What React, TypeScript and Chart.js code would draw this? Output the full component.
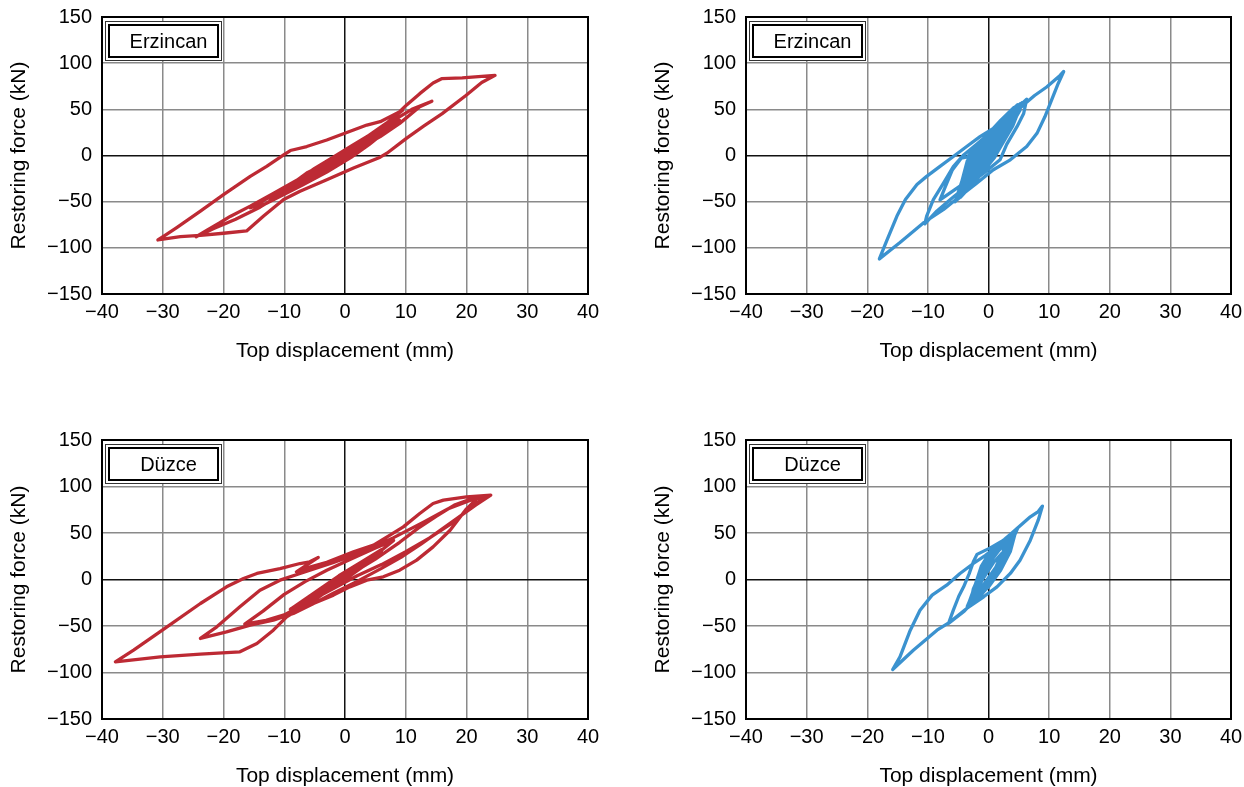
import React, { useEffect, useRef } from "react";
import { Chart, registerables } from "chart.js";

Chart.register(...registerables);

// ---------- axis / text data ----------
const xTickValues = [-40, -30, -20, -10, 0, 10, 20, 30, 40];
const yTickValues = [-150, -100, -50, 0, 50, 100, 150];
const xAxisTitle = "Top displacement (mm)";
const yAxisTitle = "Restoring force (kN)";
const panelLabels = ["Erzincan", "Erzincan", "Düzce", "Düzce"];

// ---------- series data (displacement mm, force kN) ----------
// Top-left: Erzincan (red)
const erzRedX = [
  0, 2.5, -1.5, 3.5, -3, 1, -2.5, 4, -4.5, 2, -1, 5, -5, 0, 6, 3, -2, -6,
  -3, 0, 4, 8, 11, 14.3, 12.3, 9, 5.8, 1.9, -3, -6.3, -9.6, -15.6,
  -13, -10, -7, -3, 1, 4, 7, 9, 6, 3, 0, -4, -8, -11, -14, -18, -21.6, -24.5,
  -22.5, -20.6, -18.9, -15.6, -11.8, -8, -4, 0, 3, 5.5, 7.5, 10.1, 12.3, 14.5, 15.9, 19.3, 22.5, 24.7,
  22.5, 19.9, 16, 13, 10.1, 6.9, 5.8, 1.4, -3, -7.4, -10.1, -13.4, -16.2, -20, -23.8, -27.1, -30.8,
  -29.5, -27.7, -23.8, -20, -15.6, -12.9, -10.1, -9, -6.3, -3, 1.4, 3.6, 5.8, 7.9, 9.5,
  7, 4, 1, -2, -5, -8, -11, -12.5, -9, -5, -1, 2, 4, 1, -3, -6,
  -9, -11.5, -8, -4, 0, 4, 7.5, 5, 1, -3, -7, -10, -6, -2, 2, 6, 3, -1, -5,
  -3, 0, 3, 1, -2, -4, -1, 2, 0,
];
const erzRedY = [
  0, 12, -6, 16, -12, 8, -10, 20, -18, 14, -2, 24, -20, 4, 28, 14, -10, -24,
  -10, 6, 20, 38, 50, 58.8, 52.7, 34.8, 20.4, 6.1, -8.2, -19, -35.1, -56.6,
  -52, -42, -32, -18, -2, 12, 28, 38, 26, 14, 2, -16, -32, -44, -56, -69, -79, -88,
  -80, -72.8, -66, -54.8, -41, -27, -12, 4, 16, 27, 38, 54.5, 67, 78.5, 83.2, 84, 85.7, 86.8,
  79, 65, 45.4, 32, 18.6, 2.5, -1.8, -13.6, -26.2, -38.7, -47.7, -65.6, -81.7, -84.2, -86.4, -87.8, -91.5,
  -86, -78.1, -60.2, -42.3, -22.6, -11.8, 0.7, 5.4, 9.7, 16.8, 27.6, 33, 36.6, 43.7, 49,
  36, 22, 10, -2, -14, -28, -40, -46, -34, -16, 2, 14, 22, 8, -10, -24,
  -36, -44, -28, -12, 6, 22, 36, 20, 2, -14, -30, -40, -20, -4, 12, 28, 12, -4, -20,
  -12, 4, 18, 10, -4, -14, 0, 12, 4,
];

// Top-right: Erzincan (blue)
const erzBlueX = [
  0, 1.5, -1, 2.5, -2, 3.5, -3,
  -2, 0, 2.5, 5, 3.5, 1, -1.5, -4.5,
  -3, -0.5, 2.5, 4.5, 3, 0.5, -2, -5,
  -3.2, 0.6, 4.6, 3.2, 0.9, -1.8, -4.6,
  -3.8, -1.5, 1.5, 4.8, 3.6, 1.5, -1, -4,
  -2.8, 0, 2.5, 5.2, 4, 2, -0.5, -3.5, -5.2,
  -3.5, -0.8, 2, 4.2, 2.8, 0.2, -2.5, -4.8,
  -3.5, -1, 2, 5.5, 4, 1.5, -1, -4,
  -2.5, 0.5, 3, 4, 2.5, 0, -3, -5.5,
  -4, -2.5, 0.5, 3.5, 6.3,
  5.8, 4.7, 3, 1.9, 0, -3, -6, -8.5, -10.5,
  -10.2, -9.1, -7.4, -5.8, -4.2, -2, 0.5, 3,
  1.5, -1, -4, -8,
  -7.2, -6, -4.5, -3.5, -3, -1, 1.5, 4, 6, 7.6, 9.6, 11.8, 12.4,
  11.5, 10.4, 9.3, 8, 6.3, 3.6, 0.8, -1.9, -4.7, -7.4, -10.7, -14.6, -18,
  -16.8, -15.1, -13.7, -11.8, -10.2, -8, -5.8, -3.6, -1.4, 0.8, 3, 5.2,
  3, 0.5, -2, -4.5, -3, -1, 1.5, 4, 2.5, 0, -2.5, -4, -2, 0, 2.5, 3.5,
  2, -0.5, -3, -4.2, -2.2, 0.8, 3, 1.5, -1, -2.5, -0.5, 1.5, 0,
];
const erzBlueY = [
  0, 12, -10, 26, -20, 38, -30,
  -6, 16, 36, 54, 28, -2, -22, -44,
  -8, 16, 37, 50, 22, -6, -26, -47,
  0, 28, 52, 26, -3, -25, -45,
  -18, 10, 34, 55, 30, 6, -16, -40,
  -6, 18, 38, 56, 34, 10, -14, -36, -48,
  -6, 18, 38, 52, 20, -8, -30, -46,
  -10, 12, 32, 57, 32, 4, -18, -40,
  -4, 22, 42, 48, 18, -10, -32, -50,
  -20, 2, 26, 44, 61,
  45.5, 31.2, 12, -4.7, -15, -30, -46, -60, -74,
  -65.6, -47.7, -29.7, -12, 0, 12, 26, 40,
  12, -12, -30, -48,
  -35, -16, -3, -1.4, 2, 16, 30, 44, 56, 65, 74.2, 86.7, 91,
  78, 59.9, 41.9, 24, 9.7, -4.7, -15.4, -29.7, -44.1, -58.4, -72.8, -94.3, -112,
  -92.5, -65.6, -47.7, -31.5, -22.6, -11.8, -1.1, 9.7, 20.4, 29.4, 40.1, 49.1,
  24, -4, -24, -42, -16, 6, 26, 46, 20, -6, -26, -38, -10, 10, 30, 40,
  14, -10, -30, -40, -12, 16, 34, 12, -12, -22, 2, 16, 0,
];

// Bottom-left: Düzce (red)
const duzRedX = [
  0, 3, -2, 4, -3.5, 5, -5, 6, -7,
  -3, 1, 5, 9, 12, 15, 18, 20.5, 22,
  20, 17.3, 14.5, 11.8, 9, 6.3, 3.6, 0.8, -1.9, -5.2, -7.4, -9.6, -11.8, -14.5, -17.3, -23.8, -30.4, -37.8,
  -34.8, -29.3, -23.8, -19.5, -16.7, -14.5, -10.7, -7.4, -5.8, -4.4,
  -8, -5.5, -3, 1.4, 4.7, 7.4, 9.6, 12.3, 14.5, 16.2, 20, 24,
  21.5, 18.5, 15.5, 12.5, 9.5, 6, 2, -2, -5.5, -8.5, -11.8, -15.6, -19.5, -23.8,
  -21.1, -17.3, -14, -10.7, -7.4, -2, 3, 8, 13, 17, 21, 23,
  20.5, 17.5, 14, 10, 6, 2, -2, -6, -10, -13, -16.5,
  -13.5, -10, -6.5, -3, 1, 5, 8,
  5, 1, -3, -7, -9, -5, -1, 3, 6, 3, -1, -4, -6, -3, 0, 3, 1, -2, 0,
];
const duzRedY = [
  0, 14, -8, 20, -14, 24, -22, 30, -30,
  -12, 6, 22, 40, 55, 68, 80, 86, 88.5,
  76, 53, 35.1, 20.8, 10, 2.9, -0.7, -7.9, -16.8, -25.8, -31.2, -40.1, -54.5, -68.8, -77.8, -80.3, -83.2, -88.5,
  -76, -50.9, -25.8, -7.9, 1.1, 6.5, 11.8, 17.2, 19, 23.7,
  8.2, 14, 18.5, 29.7, 36.9, 47.7, 56.6, 71, 81.7, 85.3, 88.9, 90.7,
  80, 66, 52, 38, 25, 12, -2, -15, -27, -36.6, -43.7, -49.1, -56.3, -63.4,
  -50.9, -29.4, -11.5, -0.7, 6.5, 18, 30, 45, 62, 76, 86, 88,
  76, 60, 45, 30, 16, 4, -10, -24, -38, -44, -48,
  -34, -16, -2, 10, 22, 34, 42,
  26, 8, -8, -24, -32, -14, 4, 20, 32, 16, -2, -14, -22, -8, 6, 16, 6, -6, 2,
];

// Bottom-right: Düzce (blue)
const duzBlueX = [
  0, 1, -0.8, 2, -1.5, 3, -2.5,
  -1.5, 0.3, 2.5, 4.5, 3.5, 1.8, 0, -1.5, -3.5,
  -2.4, -1.2, 0.5, 2.6, 4.6, 3.5, 1.8, 0.2, -1.5, -3.3,
  -2, -0.6, 1, 3, 4.8, 3, 1.2, -0.6, -2.8,
  -1.8, 0, 1.8, 4.2, 2.5, 0.8, -1, -3.5,
  -2.6, -1, 0.8, 3.5, 4.6, 3.8, 2.2, 0.5, -1.2, -3,
  -2.5, -1, 1, 3, 4.7, 3.6, 2, 0.3, -1.4, -3.2,
  -2.2, -0.8, 1.2, 4, 3, 1.5, -0.3, -2, -3.5,
  -2, -0.5, 2, 4.5,
  3.6, 2, 0, -2, -4, -6.6,
  -5.8, -4.9, -4.1, -3.2, -2.5, -1.9,
  0.3, 2.5, 4.7, 6.9, 8.2, 8.9,
  8.2, 6.9, 5.2, 3.6, 1.4, -0.8, -3.6, -6.3, -8.5, -12.4, -15.8,
  -14.6, -12.9, -11.3, -9.3, -6.9, -4.7, -2.5, -0.5, 1.5, 3,
  2, 0.5, -1.5, -3, -1.8, -0.3, 1.8, 3.6, 2.4, 0.8, -1, -2.6, -1, 0.8, 2.2, 1, -0.6, -1.8, 0,
];
const duzBlueY = [
  0, 8, -6, 18, -12, 30, -22,
  -4, 20, 40, 53, 34, 12, -6, -18, -30,
  -10, 14, 32, 43, 54, 34, 12, -5, -19, -29,
  -14, 8, 26, 42, 55, 28, 6, -12, -26,
  -4, 18, 34, 50, 22, 2, -14, -30,
  -14, 10, 28, 46, 53, 38, 18, -2, -16, -27,
  -10, 12, 30, 44, 55, 35, 14, -4, -18, -28,
  -8, 14, 32, 50, 30, 10, -8, -20, -29,
  -6, 16, 38, 52,
  30, 10, -8, -20, -34, -47.3,
  -33, -18, -7.9, 6, 19, 27,
  34, 42.3, 54.8, 67.4, 73, 78.9,
  63.8, 42.3, 20.8, 6.5, -7.9, -18.6, -31.2, -45.5, -54.5, -76, -96.8,
  -83.2, -54.5, -33, -16.8, -6.1, 6.5, 17.2, 26, 36, 44,
  20, -2, -16, -26, -6, 14, 32, 44, 24, 4, -12, -22, 0, 18, 28, 10, -6, -14, 0,
];

const RED = "#BD2A34";
const BLUE = "#3B92CF";
const FONT_FAMILY = "'Liberation Sans', Arial, Helvetica, sans-serif";

function fmt(v: number): string {
  return v < 0 ? "\u2212" + Math.abs(v) : String(v);
}

function framePlugin(label: string) {
  return {
    id: "frameAndLabel",
    beforeDatasetsDraw(chart: any) {
      const { ctx, chartArea: a } = chart;
      ctx.save();
      ctx.strokeStyle = "#000";
      ctx.lineWidth = 2;
      ctx.strokeRect(a.left, a.top, a.right - a.left, a.bottom - a.top);
      const bx = a.left + 3;
      const by = a.top + 4;
      ctx.fillStyle = "#fff";
      ctx.fillRect(bx, by, 117, 40);
      ctx.lineWidth = 1;
      ctx.strokeStyle = "#333";
      ctx.strokeRect(bx + 0.5, by + 0.5, 116, 39);
      ctx.lineWidth = 2;
      ctx.strokeStyle = "#000";
      ctx.strokeRect(bx + 4, by + 4, 109, 32);
      ctx.fillStyle = "#000";
      ctx.font = `20px ${FONT_FAMILY}`;
      ctx.textAlign = "center";
      ctx.textBaseline = "middle";
      ctx.fillText(label, bx + 58.5 + 5, by + 21);
      ctx.restore();
    },
  };
}

type PanelProps = {
  left: number;
  top: number;
  width: number;
  height: number;
  rightPad: number;
  xs: number[];
  ys: number[];
  color: string;
  label: string;
};

function Panel({ left, top, width, height, rightPad, xs, ys, color, label }: PanelProps) {
  const ref = useRef<HTMLCanvasElement | null>(null);
  useEffect(() => {
    if (!ref.current) return;
    const tickFont = { family: FONT_FAMILY, size: 20 };
    const titleFont = { family: FONT_FAMILY, size: 21, lineHeight: 1 };
    const zeroPad = (s: any) => {
      s.paddingLeft = 0;
      s.paddingRight = 0;
      s.paddingTop = 0;
      s.paddingBottom = 0;
    };
    const gridColor = (c: any) => (c.tick && c.tick.value === 0 ? "#111" : "#8a8a8a");
    const chart = new Chart(ref.current, {
      type: "scatter",
      data: {
        datasets: [
          {
            data: xs.map((x, i) => ({ x, y: ys[i] })),
            showLine: true,
            borderColor: color,
            backgroundColor: color,
            borderWidth: 3.3,
            pointRadius: 0,
            fill: false,
            tension: 0,
            borderJoinStyle: "round",
            borderCapStyle: "round",
          } as any,
        ],
      },
      options: {
        animation: false,
        responsive: false,
        maintainAspectRatio: false,
        layout: { padding: { left: 0, top: 17, right: rightPad, bottom: 0 } },
        plugins: {
          legend: { display: false },
          tooltip: { enabled: false },
        },
        scales: {
          x: {
            type: "linear",
            min: -40,
            max: 40,
            afterBuildTicks: (s: any) => {
              s.ticks = xTickValues.map((v) => ({ value: v }));
            },
            afterFit: (s: any) => {
              s.height = 68;
              zeroPad(s);
            },
            grid: { color: gridColor, lineWidth: 1.5, drawTicks: false },
            border: { display: false },
            ticks: {
              padding: 6,
              font: tickFont,
              color: "#000",
              maxRotation: 0,
              autoSkip: false,
              callback: (v: any) => fmt(Number(v)),
            },
            title: {
              display: true,
              text: xAxisTitle,
              font: titleFont,
              color: "#000",
              padding: { top: 0, bottom: 0 },
            },
          },
          y: {
            type: "linear",
            min: -150,
            max: 150,
            afterBuildTicks: (s: any) => {
              s.ticks = yTickValues.map((v) => ({ value: v }));
            },
            afterFit: (s: any) => {
              s.width = 102;
              zeroPad(s);
            },
            grid: { color: gridColor, lineWidth: 1.5, drawTicks: false },
            border: { display: false },
            ticks: {
              padding: 10,
              font: tickFont,
              color: "#000",
              autoSkip: false,
              callback: (v: any) => fmt(Number(v)),
            },
            title: {
              display: true,
              text: yAxisTitle,
              font: titleFont,
              color: "#000",
              padding: { top: 8.5, bottom: 0 },
            },
          },
        },
      } as any,
      plugins: [framePlugin(label)],
    });
    return () => chart.destroy();
  }, [xs, ys, color, label, rightPad]);

  return (
    <canvas
      ref={ref}
      width={width}
      height={height}
      style={{ position: "absolute", left, top, width, height }}
    />
  );
}

export default function App() {
  return (
    <div
      style={{
        position: "absolute",
        left: 0,
        top: 0,
        width: 1244,
        height: 787,
        background: "#fff",
        overflow: "hidden",
      }}
    >
      <Panel left={0} top={0} width={620} height={362} rightPad={32} xs={erzRedX} ys={erzRedY} color={RED} label={panelLabels[0]} />
      <Panel left={644} top={0} width={600} height={362} rightPad={13} xs={erzBlueX} ys={erzBlueY} color={BLUE} label={panelLabels[1]} />
      <Panel left={0} top={423} width={620} height={364} rightPad={32} xs={duzRedX} ys={duzRedY} color={RED} label={panelLabels[2]} />
      <Panel left={644} top={423} width={600} height={364} rightPad={13} xs={duzBlueX} ys={duzBlueY} color={BLUE} label={panelLabels[3]} />
    </div>
  );
}
